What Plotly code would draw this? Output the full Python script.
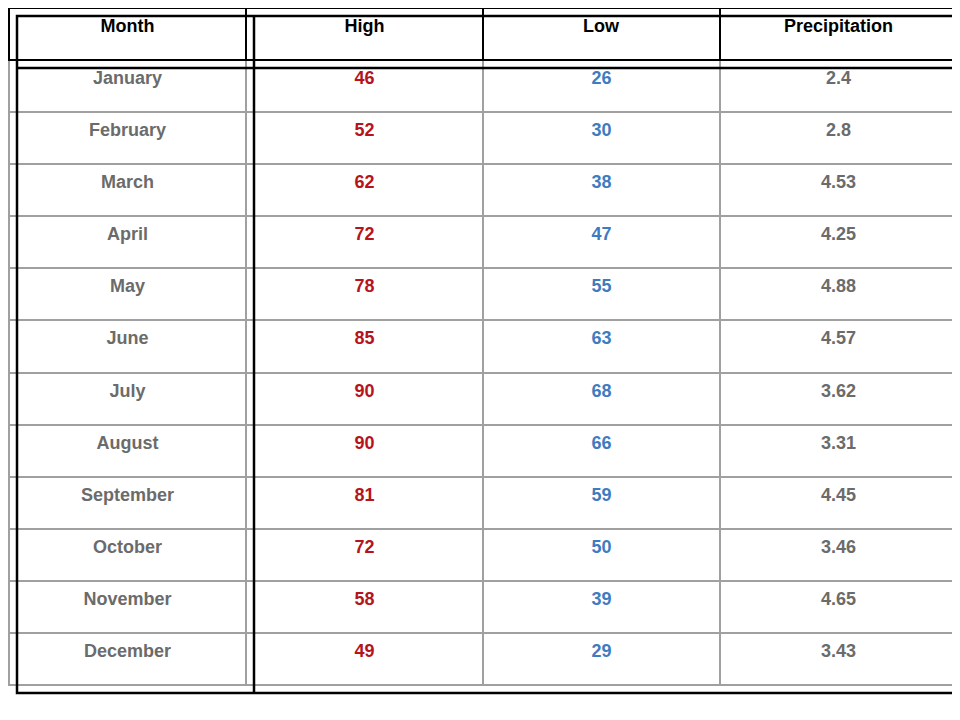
import plotly.graph_objects as go

months = ["January","February","March","April","May","June","July","August","September","October","November","December"]
high = [46,52,62,72,78,85,90,90,81,72,58,49]
low = [26,30,38,47,55,63,68,66,59,50,39,29]
precip = ["2.4","2.8","4.53","4.25","4.88","4.57","3.62","3.31","4.45","3.46","4.65","3.43"]
headers = ["Month","High","Low","Precipitation"]

W, HT = 960, 720
ml, mr, mt, mb = 1, 11, 0, 35
top, bot = 8, 685
rh = (bot - top) / 13
pw, ph = W - ml - mr, HT - mt - mb
fig = go.Figure(go.Table(
    columnwidth=[1,1,1,1],
    header=dict(values=[f"<b>{h}</b>" for h in headers], height=rh,
                fill_color="white", line=dict(color="black", width=2),
                font=dict(family="Liberation Sans, Arial", size=18, color="black"), align="center"),
    cells=dict(values=[[f"<b>{m}</b>" for m in months],[f"<b>{v}</b>" for v in high],
                       [f"<b>{v}</b>" for v in low],[f"<b>{v}</b>" for v in precip]],
               height=rh, fill_color="white", line=dict(color="#a0a0a0", width=2),
               font=dict(family="Liberation Sans, Arial", size=18,
                         color=["#6b6b6b","#b5141b","#3f7cbf","#6b6b6b"]), align="center"),
))
def px(x): return (x - ml) / pw
def py(y): return (HT - mb - y) / ph
x0, x1 = 9, 957
shapes = [
    dict(type="rect", x0=px(x0), x1=px(x1), y0=py(bot), y1=py(top)),
    dict(type="line", x0=px(x0), x1=px(x1), y0=py(top + rh), y1=py(top + rh)),
    dict(type="line", x0=px(x0 + (x1 - x0) / 4), x1=px(x0 + (x1 - x0) / 4), y0=py(bot), y1=py(top)),
]
for s in shapes:
    s.update(xref="paper", yref="paper", line=dict(color="black", width=2.5))
fig.update_layout(width=W, height=HT, margin=dict(l=ml, r=mr, t=mt, b=mb),
                  paper_bgcolor="white", shapes=shapes)
fig.write_html("out.html")
